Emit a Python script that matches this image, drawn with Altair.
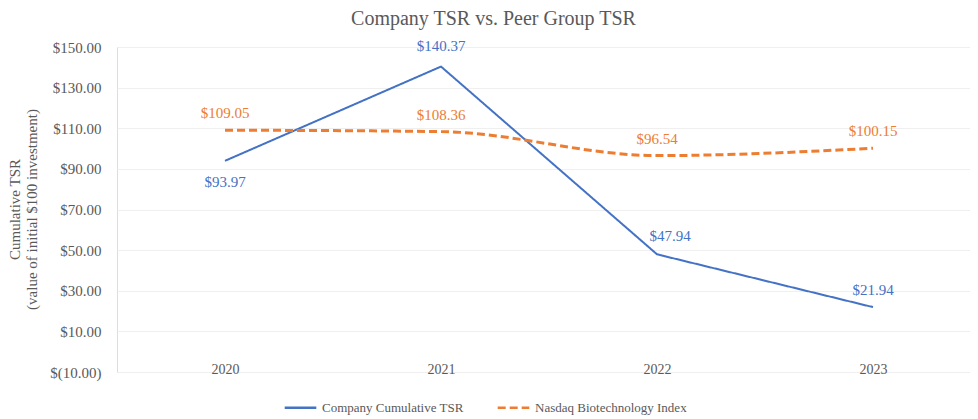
import altair as alt
import pandas as pd

years = [2020, 2021, 2022, 2023]
company = [93.97, 140.37, 47.94, 21.94]
nasdaq = [109.05, 108.36, 96.54, 100.15]
series_names = ["Company Cumulative TSR", "Nasdaq Biotechnology Index"]
y_ticks = [-10, 10, 30, 50, 70, 90, 110, 130, 150]

rows = []
for yr, c, n in zip(years, company, nasdaq):
    rows.append({"year": yr, "value": c, "series": series_names[0]})
    rows.append({"year": yr, "value": n, "series": series_names[1]})
df = pd.DataFrame(rows)
df["label"] = df["value"].map(lambda v: f"${v:.2f}")

FONT = "Liberation Serif"
GREY = "#595959"
BLUE = "#4472C4"
ORANGE = "#ED7D31"

x_enc = alt.X(
    "year:Q",
    scale=alt.Scale(domain=[2019.5, 2019.5 + 853 / 216], nice=False, zero=False),
    axis=alt.Axis(values=years, format="d", grid=False, domain=False, ticks=False,
                  tickSize=0, labelBaseline="middle", labelPadding=-3,
                  labelFontSize=14, labelColor=GREY, labelFont=FONT, title=None),
)
y_enc = alt.Y(
    "value:Q",
    scale=alt.Scale(domain=[-10, 150], nice=False, zero=False),
    axis=alt.Axis(
        values=y_ticks,
        labelExpr="datum.value < 0 ? '$(' + format(-datum.value, '.2f') + ')' : '$' + format(datum.value, '.2f')",
        grid=True, gridColor="#EFEFEF", gridWidth=1, domain=False, ticks=False, tickSize=0,
        labelPadding=16, labelFontSize=15, labelColor=GREY, labelFont=FONT,
        title=["Cumulative TSR", "(value of initial $100 investment)"],
        titleFont=FONT, titleFontSize=15, titleFontWeight="normal", titleColor=GREY,
        titleAngle=-90, titleBaseline="middle", titleAlign="center",
        titleX=-103, titleY=162,
    ),
)
legend_cfg = dict(
    orient="none", direction="horizontal", legendX=166, legendY=343,
    title=None, symbolType="stroke", symbolSize=1000, symbolStrokeWidth=2.5,
    labelFont=FONT, labelFontSize=13, labelColor=GREY, labelOffset=4,
    columnPadding=28,
)
color_enc = alt.Color(
    "series:N",
    scale=alt.Scale(domain=series_names, range=[BLUE, ORANGE]),
    legend=alt.Legend(**legend_cfg),
)
dash_enc = alt.StrokeDash(
    "series:N",
    scale=alt.Scale(domain=series_names, range=[[1, 0], [8, 4]]),
    legend=alt.Legend(**legend_cfg),
)

base = alt.Chart(df)

blue_line = base.transform_filter(alt.datum.series == series_names[0]).mark_line(
    strokeWidth=2
).encode(x=x_enc, y=y_enc, color=color_enc, strokeDash=dash_enc)

orange_line = base.transform_filter(alt.datum.series == series_names[1]).mark_line(
    strokeWidth=3, interpolate="monotone"
).encode(x=x_enc, y=y_enc, color=color_enc, strokeDash=dash_enc)

txt_common = dict(font=FONT, fontSize=15, baseline="middle", align="center")
label_color = alt.Color("series:N", scale=alt.Scale(domain=series_names, range=[BLUE, ORANGE]), legend=None)

labels_above = base.transform_filter(
    "!((datum.series == 'Company Cumulative TSR') && (datum.year == 2020 || datum.year == 2022 || datum.year == 2021))"
).mark_text(dy=-17, **txt_common).encode(
    x="year:Q", y="value:Q", text="label:N", color=label_color,
)
label_peak = base.transform_filter(
    "datum.series == 'Company Cumulative TSR' && datum.year == 2021"
).mark_text(dy=-21, **txt_common).encode(
    x="year:Q", y="value:Q", text="label:N", color=label_color,
)
label_below = base.transform_filter(
    "datum.series == 'Company Cumulative TSR' && datum.year == 2020"
).mark_text(dy=21, **txt_common).encode(
    x="year:Q", y="value:Q", text="label:N", color=label_color,
)
label_right = base.transform_filter(
    "datum.series == 'Company Cumulative TSR' && datum.year == 2022"
).mark_text(dy=-18, dx=13, **txt_common).encode(
    x="year:Q", y="value:Q", text="label:N", color=label_color,
)

chart = alt.layer(blue_line, orange_line, labels_above, label_peak, label_below, label_right).properties(
    width=853, height=325,
    autosize="none",
    padding={"left": 109, "top": 39, "right": 0, "bottom": 47},
    title=alt.Title(
        "Company TSR vs. Peer Group TSR", font=FONT, fontSize=20, fontWeight="normal",
        color=GREY, anchor="middle", dx=-50, baseline="middle", offset=0,
    ),
).configure_view(stroke=None).configure(background="white")

chart.save("out.html", embed_options={"renderer": "svg", "actions": False})
